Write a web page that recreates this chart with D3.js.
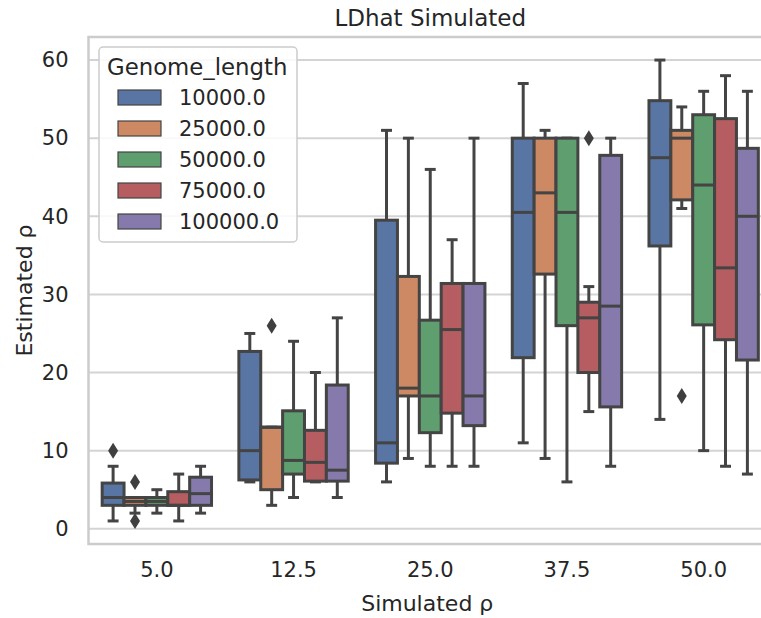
<!DOCTYPE html>
<html>
<head>
<meta charset="utf-8">
<script src="https://cdn.jsdelivr.net/npm/d3@7"></script>
<style>
  html, body { margin: 0; padding: 0; background: #fff; }
  svg { display: block; }
  text { font-family: "DejaVu Sans", sans-serif; fill: #262626; }
</style>
</head>
<body>
<svg id="chart" width="761" height="618"></svg>
<script>
// ---- data ----
const categories = ["5.0", "12.5", "25.0", "37.5", "50.0"];
const genomeLengths = ["10000.0", "25000.0", "50000.0", "75000.0", "100000.0"];
const colors = ["#5975a4", "#cc8963", "#5f9e6e", "#b55d60", "#857aab"];
const yTicks = [0, 10, 20, 30, 40, 50, 60];

// one row per genome length, one value per simulated rho category
const whiskerLow = [
  [1, 6, 6, 11, 14],
  [2, 3, 9, 9, 41],
  [2, 4, 8, 6, 10],
  [1, 6, 8, 15, 8],
  [2, 4, 8, 8, 7]
];
const q1 = [
  [3, 6.25, 8.4, 21.9, 36.2],
  [3, 5, 17, 32.6, 42.1],
  [3, 7, 12.3, 26, 26.1],
  [3, 6.1, 14.8, 20, 24.2],
  [3, 6.1, 13.2, 15.6, 21.6]
];
const median = [
  [4, 10, 11, 40.5, 47.5],
  [3.5, 13, 18, 43, 50],
  [3.5, 8.75, 17, 40.5, 44],
  [3, 8.5, 25.5, 27, 33.4],
  [4.5, 7.5, 17, 28.5, 40]
];
const q3 = [
  [5.85, 22.7, 39.5, 50, 54.8],
  [4, 13, 32.3, 50, 51],
  [4, 15.1, 26.7, 50, 53],
  [4.75, 12.6, 31.4, 29, 52.5],
  [6.6, 18.4, 31.4, 47.8, 48.7]
];
const whiskerHigh = [
  [8, 25, 51, 57, 60],
  [4, 13, 50, 51, 54],
  [5, 24, 46, 50, 56],
  [7, 20, 37, 31, 58],
  [8, 27, 50, 50, 56]
];
// [genome length index, category index, value]
const outliers = [
  [0, 0, 10],
  [1, 0, 6],
  [1, 0, 1],
  [1, 1, 26],
  [3, 3, 50],
  [1, 4, 17]
];

// ---- layout ----
const svg = d3.select("#chart");
const mLeft = 88.5, mRight = 772, mTop = 37, mBottom = 544;
const lineGray = "#444444";

const x = d3.scaleBand().domain(categories).range([mLeft, mRight]).padding(0);
const hue = d3.scaleBand().domain(genomeLengths).range([0, x.bandwidth() * 0.8]);
const y = d3.scaleLinear().domain([-1.95, 62.95]).range([mBottom, mTop]);

// grid
svg.append("g").selectAll("line").data(yTicks).join("line")
  .attr("x1", mLeft).attr("x2", mRight)
  .attr("y1", d => y(d)).attr("y2", d => y(d))
  .attr("stroke", "#d4d4d4").attr("stroke-width", 2);

// frame
svg.append("rect")
  .attr("x", mLeft).attr("y", mTop)
  .attr("width", mRight - mLeft).attr("height", mBottom - mTop)
  .attr("fill", "none").attr("stroke", "#cccccc").attr("stroke-width", 2.5);

// y axis
const yAxis = d3.axisLeft(y).tickValues(yTicks).tickSize(0).tickPadding(20).tickFormat(d3.format("d"));
const gy = svg.append("g").attr("transform", `translate(${mLeft},0)`).call(yAxis);
gy.select(".domain").remove();
gy.selectAll("text").attr("font-size", 21).style("fill", "#262626")
  .attr("font-family", "DejaVu Sans");

// x axis
const xAxis = d3.axisBottom(x).tickSize(0).tickPadding(18);
const gx = svg.append("g").attr("transform", `translate(0,${mBottom})`).call(xAxis);
gx.select(".domain").remove();
gx.selectAll("text").attr("font-size", 21).style("fill", "#262626")
  .attr("font-family", "DejaVu Sans");

// labels
svg.append("text").attr("x", (mLeft + mRight) / 2).attr("y", 26)
  .attr("text-anchor", "middle").attr("font-size", 23).text("LDhat Simulated");
svg.append("text").attr("x", (mLeft + mRight) / 2 - 3).attr("y", 611)
  .attr("text-anchor", "middle").attr("font-size", 22).text("Simulated ρ");
svg.append("text")
  .attr("transform", `translate(32,${(mTop + mBottom) / 2}) rotate(-90)`)
  .attr("text-anchor", "middle").attr("font-size", 22).text("Estimated ρ");

// boxes
const boxes = [];
genomeLengths.forEach((g, gi) => {
  categories.forEach((c, ci) => {
    boxes.push({gi, ci, lo: whiskerLow[gi][ci], q1: q1[gi][ci], med: median[gi][ci],
      q3: q3[gi][ci], hi: whiskerHigh[gi][ci]});
  });
});
const groupOffset = x.bandwidth() * 0.1;
const bw = hue.bandwidth();
const bg = svg.append("g");
boxes.forEach(b => {
  const x0 = x(categories[b.ci]) + groupOffset + hue(genomeLengths[b.gi]);
  const cx = x0 + bw / 2;
  const g = bg.append("g");
  g.append("line").attr("x1", cx).attr("x2", cx).attr("y1", y(b.q3)).attr("y2", y(b.hi))
    .attr("stroke", lineGray).attr("stroke-width", 3);
  g.append("line").attr("x1", cx).attr("x2", cx).attr("y1", y(b.q1)).attr("y2", y(b.lo))
    .attr("stroke", lineGray).attr("stroke-width", 3);
  [b.hi, b.lo].forEach(v => {
    g.append("line").attr("x1", cx - bw / 4).attr("x2", cx + bw / 4)
      .attr("y1", y(v)).attr("y2", y(v))
      .attr("stroke", lineGray).attr("stroke-width", 3);
  });
  g.append("rect").attr("x", x0).attr("width", bw)
    .attr("y", y(b.q3)).attr("height", Math.max(0, y(b.q1) - y(b.q3)))
    .attr("fill", colors[b.gi]).attr("stroke", lineGray).attr("stroke-width", 3);
  g.append("line").attr("x1", x0).attr("x2", x0 + bw)
    .attr("y1", y(b.med)).attr("y2", y(b.med))
    .attr("stroke", lineGray).attr("stroke-width", 3);
});

// outliers (diamonds)
const diamond = "M0,-8L5,0L0,8L-5,0Z";
svg.append("g").selectAll("path").data(outliers).join("path")
  .attr("d", diamond)
  .attr("transform", d => `translate(${x(categories[d[1]]) + groupOffset + hue(genomeLengths[d[0]]) + bw / 2},${y(d[2])})`)
  .attr("fill", "#3f3f3f");

// legend
const lg = svg.append("g");
lg.append("rect").attr("x", 99).attr("y", 47).attr("width", 198).attr("height", 195)
  .attr("rx", 4).attr("fill", "rgba(255,255,255,0.85)").attr("stroke", "#cccccc").attr("stroke-width", 1.5);
lg.append("text").attr("x", 107).attr("y", 75).attr("font-size", 22.8).text("Genome_length");
genomeLengths.forEach((g, i) => {
  const cy = 97.5 + i * 31;
  lg.append("rect").attr("x", 118).attr("y", cy - 7.5).attr("width", 43).attr("height", 15)
    .attr("fill", colors[i]).attr("stroke", lineGray).attr("stroke-width", 1.2);
  lg.append("text").attr("x", 179).attr("y", cy + 7.5).attr("font-size", 21).text(g);
});
</script>
</body>
</html>
